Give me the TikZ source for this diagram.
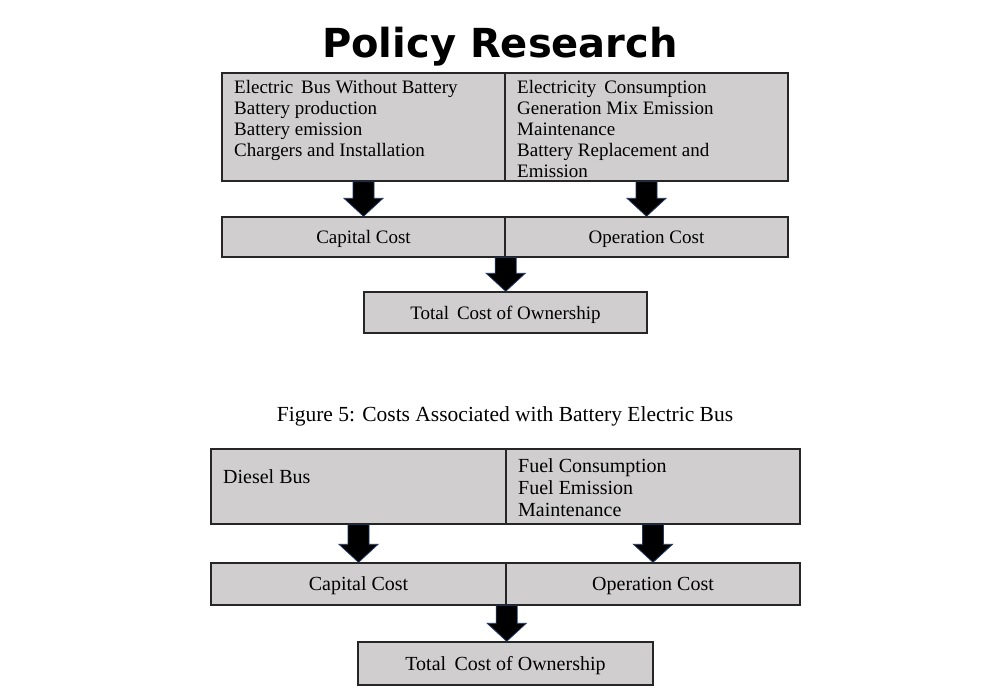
\documentclass[tikz,border=0pt]{standalone}
\usepackage{fontspec}
\setmainfont{Liberation Serif}
\newfontfamily\titlefont{DejaVu Sans}
\usetikzlibrary{calc}
\definecolor{cellfill}{HTML}{D0CECE}
\definecolor{celledge}{HTML}{262626}
\definecolor{arrowedge}{HTML}{1F3864}
\tikzset{
  cell/.style={draw=celledge, fill=cellfill, line width=1.4pt, inner sep=0pt, minimum width=#1},
  lowtext/.style={text height=14pt, text depth=1pt},
  celltxt/.style={inner sep=0pt, anchor=north west, align=left},
  toptext/.style={font=\fontsize{19}{21}\selectfont},
  bottext/.style={font=\fontsize{20}{22}\selectfont},
  blockarrowstyle/.style={draw=arrowedge, fill=black, line width=0.8pt, line join=miter}
}
\newcommand\blockarrow[2]{%
  \path[blockarrowstyle] let \p1=(#1), \p2=(#2) in
    ({\x1-10.5pt},{\y1}) -- ({\x1+10.5pt},{\y1}) -- ({\x1+10.5pt},{\y2+18pt}) --
    ({\x1+19.5pt},{\y2+18pt}) -- ({\x1},{\y2}) -- ({\x1-19.5pt},{\y2+18pt}) --
    ({\x1-10.5pt},{\y2+18pt}) -- cycle;}
\begin{document}
\begin{tikzpicture}[x=1pt,y=-1pt]
\useasboundingbox[fill=white] (0,0) rectangle (1000,700);

\node[font=\titlefont\bfseries\fontsize{40}{44}\selectfont, anchor=base] (title) at (500,58) {Policy Research};

% ---------- upper diagram ----------
\node[cell=283pt, minimum height=108pt] (t1l) at (363.5,127) {};
\node[cell=283pt, minimum height=108pt] (t1r) at (646.5,127) {};
\node[cell=283pt, minimum height=40pt, toptext, lowtext] (m1l) at (363.5,237) {Capital Cost};
\node[cell=283pt, minimum height=40pt, toptext, lowtext] (m1r) at (646.5,237) {Operation Cost};
\node[cell=283pt, minimum height=41pt, toptext, lowtext] (tc1) at (505.5,312.5) {Total\, Cost of Ownership};

\node[celltxt, toptext] (t1ltxt) at (234,80) {Electric\, Bus Without Battery\\Battery production\\Battery emission\\Chargers and Installation};
\node[celltxt, toptext] (t1rtxt) at (517,80) {Electricity\, Consumption\\Generation Mix Emission\\Maintenance\\Battery Replacement and\\Emission};

\blockarrow{t1l.south}{m1l.north}
\blockarrow{t1r.south}{m1r.north}
\blockarrow{m1l.south east}{tc1.north}

\node[font=\fontsize{21.5}{24}\selectfont, anchor=base] (caption) at (505,421) {Figure 5: Costs Associated with Battery Electric Bus};

% ---------- lower diagram ----------
\node[cell=295pt, minimum height=75pt] (t2l) at (358.5,486.5) {};
\node[cell=294pt, minimum height=75pt] (t2r) at (653,486.5) {};
\node[cell=295pt, minimum height=42pt, bottext, lowtext] (m2l) at (358.5,584) {Capital Cost};
\node[cell=294pt, minimum height=42pt, bottext, lowtext] (m2r) at (653,584) {Operation Cost};
\node[cell=295pt, minimum height=43pt, bottext, lowtext] (tc2) at (505.5,663.5) {Total\, Cost of Ownership};

\node[celltxt, bottext] (t2ltxt) at (223,469) {Diesel Bus};
\node[celltxt, bottext] (t2rtxt) at (518,458) {Fuel Consumption\\Fuel Emission\\Maintenance};

\blockarrow{t2l.south}{m2l.north}
\blockarrow{t2r.south}{m2r.north}
\blockarrow{m2l.south east}{tc2.north}
\end{tikzpicture}
\end{document}
